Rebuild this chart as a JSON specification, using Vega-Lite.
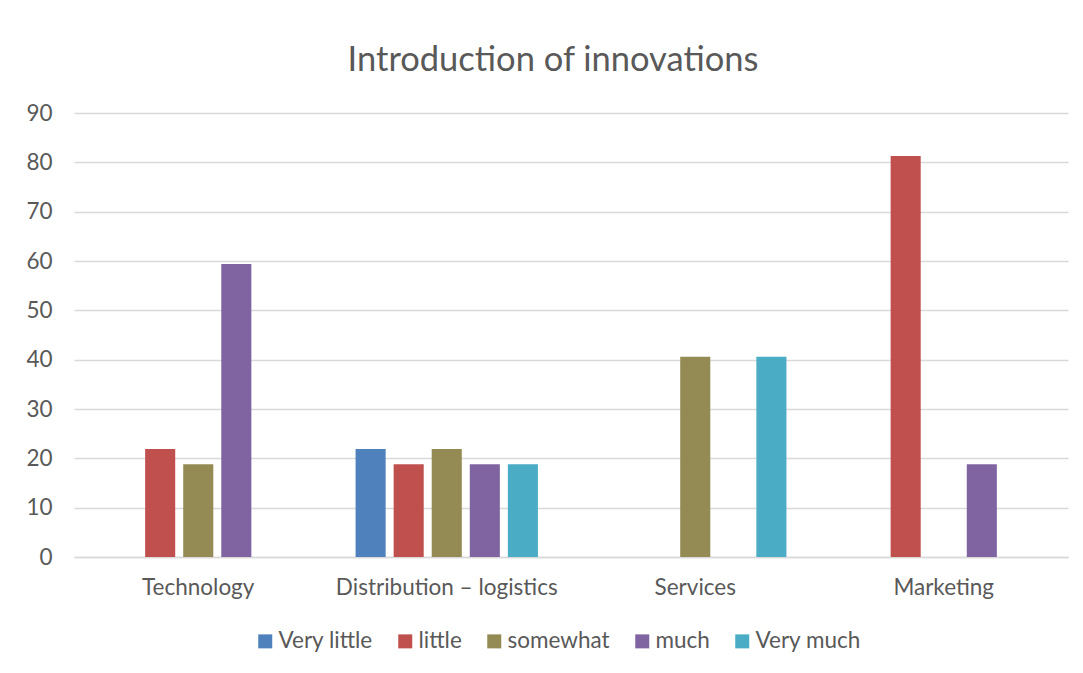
{
  "$schema": "https://vega.github.io/schema/vega-lite/v6.json",
  "width": 994,
  "height": 444,
  "autosize": "none",
  "padding": {"left": 74, "top": 113, "right": 15, "bottom": 116},
  "background": "white",
  "title": {
    "text": "Introduction of innovations",
    "font": "Lato",
    "fontSize": 34.5,
    "fontWeight": "normal",
    "color": "#595959",
    "offset": 24,
    "dx": -18
  },
  "data": {
    "values": [
      {"area": "Technology", "level": "little", "percent": 21.9},
      {"area": "Technology", "level": "somewhat", "percent": 18.8},
      {"area": "Technology", "level": "much", "percent": 59.4},
      {"area": "Distribution – logistics", "level": "Very little", "percent": 21.9},
      {"area": "Distribution – logistics", "level": "little", "percent": 18.8},
      {"area": "Distribution – logistics", "level": "somewhat", "percent": 21.9},
      {"area": "Distribution – logistics", "level": "much", "percent": 18.8},
      {"area": "Distribution – logistics", "level": "Very much", "percent": 18.8},
      {"area": "Services", "level": "somewhat", "percent": 40.6},
      {"area": "Services", "level": "Very much", "percent": 40.6},
      {"area": "Marketing", "level": "little", "percent": 81.3},
      {"area": "Marketing", "level": "much", "percent": 18.8}
    ]
  },
  "mark": {"type": "bar"},
  "encoding": {
    "x": {
      "field": "area",
      "type": "nominal",
      "sort": ["Technology", "Distribution – logistics", "Services", "Marketing"],
      "scale": {"paddingInner": 0.234, "paddingOuter": 0.117},
      "axis": {
        "title": null,
        "labelAngle": 0,
        "labelLimit": 0,
        "domain": true,
        "domainColor": "#D9D9D9",
        "domainWidth": 1.5,
        "grid": false,
        "ticks": false,
        "tickSize": 0,
        "labelPadding": 19
      }
    },
    "xOffset": {
      "field": "level",
      "type": "nominal",
      "scale": {
        "domain": ["Very little", "little", "somewhat", "much", "Very much"],
        "paddingInner": 0.21,
        "paddingOuter": 0.105
      }
    },
    "y": {
      "field": "percent",
      "type": "quantitative",
      "scale": {"domain": [0, 90], "nice": false},
      "axis": {
        "title": null,
        "values": [0, 10, 20, 30, 40, 50, 60, 70, 80, 90],
        "domain": false,
        "ticks": false,
        "tickSize": 0,
        "grid": true,
        "gridColor": "#D9D9D9",
        "gridWidth": 1.5,
        "labelPadding": 22
      }
    },
    "color": {
      "field": "level",
      "type": "nominal",
      "scale": {
        "domain": ["Very little", "little", "somewhat", "much", "Very much"],
        "range": ["#4F81BD", "#C0504D", "#948A54", "#8064A2", "#4BACC6"]
      },
      "legend": {
        "title": null,
        "orient": "none",
        "legendX": 180,
        "legendY": 517,
        "direction": "horizontal",
        "symbolType": "square",
        "symbolSize": 196,
        "symbolStrokeWidth": 0,
        "labelFont": "Lato",
        "labelFontSize": 22.5,
        "labelColor": "#595959",
        "labelOffset": 2,
        "columnPadding": 21
      }
    }
  },
  "config": {
    "view": {"stroke": null},
    "axis": {
      "labelFont": "Lato",
      "labelFontSize": 22.5,
      "labelColor": "#595959"
    }
  }
}
